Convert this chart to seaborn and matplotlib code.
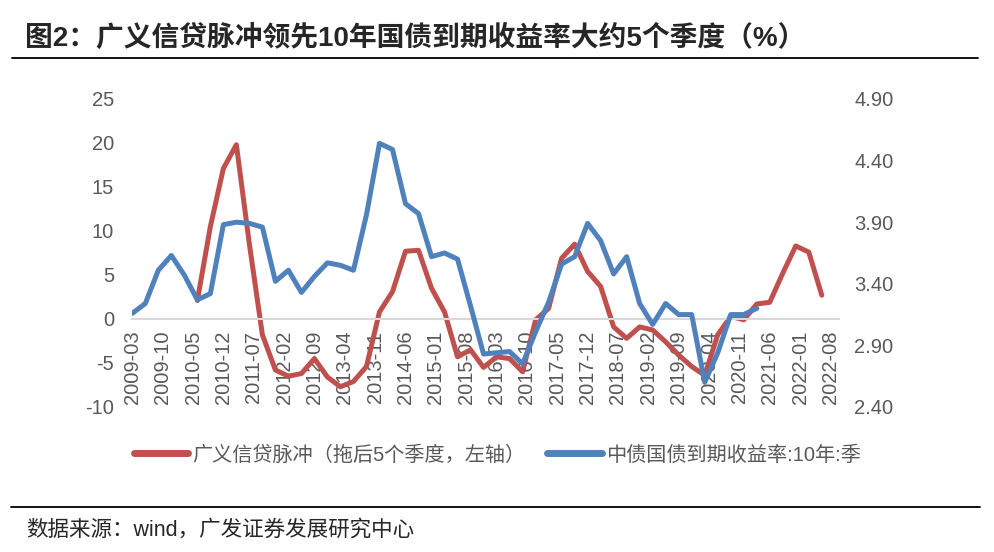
import pandas as pd
import matplotlib.pyplot as plt
from matplotlib.lines import Line2D
import seaborn as sns


    # data (quarterly)

# 10y CGB yield, 2009-03 .. 2021-03 (right axis)
yield_quarters = pd.date_range('2009-03-31', '2021-03-31', freq='QE')
yield_10y = [3.16, 3.24, 3.51, 3.63, 3.47, 3.27, 3.32, 3.88, 3.90, 3.89,
             3.86, 3.42, 3.51, 3.33, 3.46, 3.57, 3.55, 3.51, 3.96, 4.54,
             4.49, 4.05, 3.97, 3.62, 3.65, 3.60, 3.22, 2.83, 2.84, 2.85,
             2.75, 3.01, 3.25, 3.56, 3.62, 3.89, 3.75, 3.48, 3.62, 3.24,
             3.07, 3.24, 3.15, 3.15, 2.60, 2.84, 3.15, 3.15, 3.20]

# credit impulse lagged 5 quarters, 2010-06 .. 2022-06 (left axis)
impulse_quarters = pd.date_range('2010-06-30', '2022-06-30', freq='QE')
credit_impulse = [2.1, 10.5, 17.1, 19.8, 8.5, -1.8, -5.8, -6.5, -6.2, -4.5,
                  -6.6, -7.7, -7.1, -5.4, 0.8, 3.1, 7.7, 7.8, 3.5, 0.8,
                  -4.3, -3.5, -5.5, -4.3, -4.5, -6.0, -0.1, 1.2, 6.9, 8.5,
                  5.4, 3.7, -0.9, -2.2, -0.9, -1.25, -2.6, -4.1, -5.4, -6.4,
                  -1.8, 0.3, -0.1, 1.7, 1.9, 5.2, 8.3, 7.6, 2.7]

xtick_labels = ['2009-03', '2009-10', '2010-05', '2010-12', '2011-07', '2012-02',
                '2012-09', '2013-04', '2013-11', '2014-06', '2015-01', '2015-08',
                '2016-03', '2016-10', '2017-05', '2017-12', '2018-07', '2019-02',
                '2019-09', '2020-04', '2020-11', '2021-06', '2022-01', '2022-08']

left_ticks = [25, 20, 15, 10, 5, 0, -5, -10]
right_ticks = [4.90, 4.40, 3.90, 3.40, 2.90, 2.40]

label_red = '广义信贷脉冲（拖后5个季度，左轴）'
label_blue = '中债国债到期收益率:10年:季'
title = '图2：广义信贷脉冲领先10年国债到期收益率大约5个季度（%）'
source = '数据来源：wind，广发证券发展研究中心'


def month_index(dates):
    # months since 2009-03, the x axis runs in months
    return (dates.year - 2009) * 12 + dates.month - 3

d_blue = pd.DataFrame({'m': month_index(yield_quarters), 'v': yield_10y})
d_red = pd.DataFrame({'m': month_index(impulse_quarters), 'v': credit_impulse})

tick_months = [7 * i for i in range(len(xtick_labels))]


    # plot

sns.set_style('white')
plt.rcParams['font.family'] = ['Liberation Sans', 'Noto Sans CJK SC']
plt.rcParams['axes.unicode_minus'] = False

RED = '#C0504D'
BLUE = '#4F81BD'
GREY_TXT = '#595959'
GREY_AX = '#D9D9D9'

fig = plt.figure(figsize=(9.94, 5.52), dpi=100)
ax = fig.add_axes([0.1331, 0.2627, 0.7111, 0.558])
ax2 = ax.twinx()

sns.lineplot(data=d_red, x='m', y='v', ax=ax, color=RED, linewidth=3.6,
             label=label_red, legend=False, solid_capstyle='round')
sns.lineplot(data=d_blue, x='m', y='v', ax=ax2, color=BLUE, linewidth=3.6,
             label=label_blue, legend=False, solid_capstyle='round')

for a in (ax, ax2):
    for s in ['top', 'left', 'right', 'bottom']:
        a.spines[s].set_visible(False)
    a.set_xlabel('')
    a.set_ylabel('')
    a.grid(False)

# x axis sits on the zero line (set before the tick labels, it resets them)
ax.spines['bottom'].set_visible(True)
ax.spines['bottom'].set_position(('data', 0))
ax.spines['bottom'].set_color(GREY_AX)
ax.spines['bottom'].set_linewidth(1.5)
ax.tick_params(axis='x', direction='out', length=4.5, width=1.2, color=GREY_AX, pad=4)
ax.tick_params(axis='y', length=0, pad=13)
ax2.tick_params(axis='y', length=0, pad=11)

ax.set_xlim(0, 163)
ax.set_ylim(-10, 25)
ax2.set_ylim(2.4, 4.9)

ax.set_xticks(tick_months)
ax.set_xticklabels(xtick_labels, rotation=90, fontsize=14.5, color=GREY_TXT)
ax.set_yticks(left_ticks)
ax.set_yticklabels([str(t) for t in left_ticks], fontsize=14.5, color=GREY_TXT)
ax2.set_yticks(right_ticks)
ax2.set_yticklabels([f'{t:.2f}' for t in right_ticks], fontsize=14.5, color=GREY_TXT)

# legend under the plot
h1, l1 = ax.get_legend_handles_labels()
h2, l2 = ax2.get_legend_handles_labels()
leg = fig.legend(h1 + h2, l1 + l2, loc='center', bbox_to_anchor=(0.5, 0.176), ncol=2,
                 frameon=False, fontsize=14.5, handlelength=2.7, handletextpad=0.2,
                 columnspacing=1.1)
for t in leg.get_texts():
    t.set_color(GREY_TXT)
for l in leg.get_lines():
    l.set_linewidth(5)

# title, rules and source
fig.text(0.025, 0.931, title, fontsize=20, fontweight='bold', va='center', ha='left')
fig.add_artist(Line2D([0.012, 0.984], [0.895, 0.895], transform=fig.transFigure,
                      color='black', linewidth=1.3))
fig.add_artist(Line2D([0.011, 0.986], [0.0815, 0.0815], transform=fig.transFigure,
                      color='black', linewidth=1.3))
fig.text(0.026, 0.040, source, fontsize=15.5, va='center', ha='left')

plt.savefig('out.png', dpi=100)
